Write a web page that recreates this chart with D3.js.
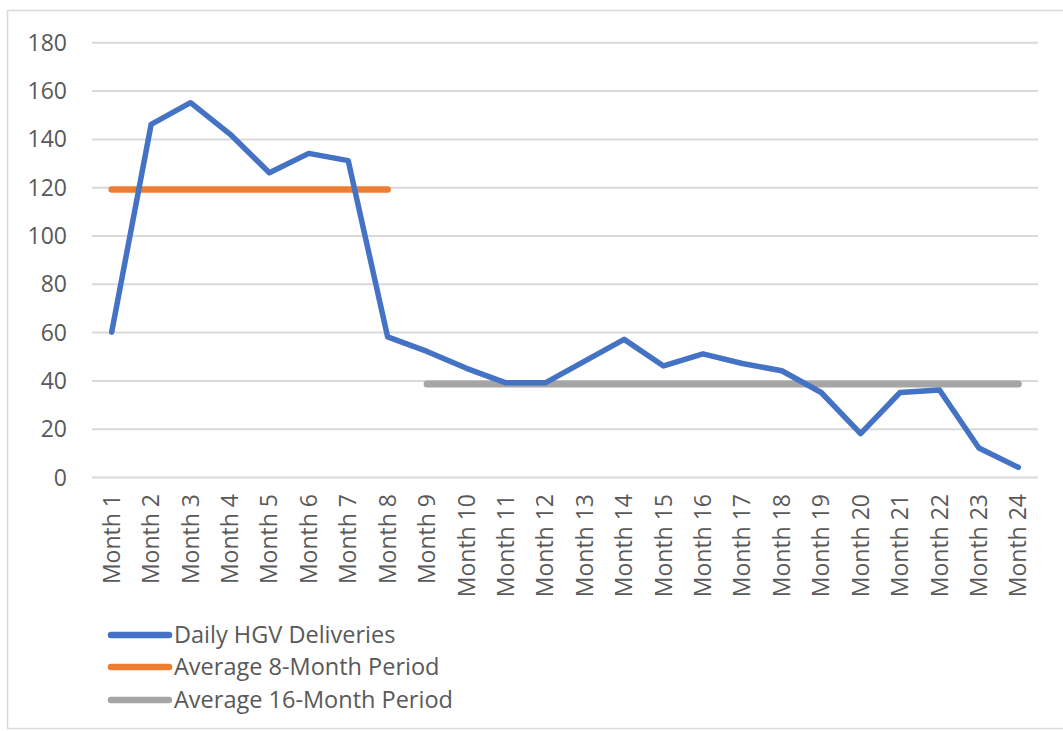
<!DOCTYPE html>
<html>
<head>
<meta charset="utf-8">
<script src="https://cdn.jsdelivr.net/npm/d3@7"></script>
<style>
  html, body { margin: 0; padding: 0; background: #fff; }
  svg { display: block; }
  text { font-family: "Open Sans", "Noto Sans", sans-serif; fill: #595959; }
</style>
</head>
<body>
<svg id="chart" width="1063" height="731"></svg>
<script>
const months = ["Month 1","Month 2","Month 3","Month 4","Month 5","Month 6","Month 7","Month 8",
  "Month 9","Month 10","Month 11","Month 12","Month 13","Month 14","Month 15","Month 16",
  "Month 17","Month 18","Month 19","Month 20","Month 21","Month 22","Month 23","Month 24"];
const deliveries = [60,146,155,142,126,134,131,58,52,45,39,39,48,57,46,51,47,44,35,18,35,36,12,4];
const avg8Months = ["Month 1","Month 8"];
const avg8Values = [119,119];
const avg16Months = ["Month 9","Month 24"];
const avg16Values = [38.5,38.5];
const yTicks = [0,20,40,60,80,100,120,140,160,180];
const seriesNames = ["Daily HGV Deliveries","Average 8-Month Period","Average 16-Month Period"];
const seriesColors = ["#4472C4","#ED7D31","#A5A5A5"];

const svg = d3.select("#chart");
const plot = {left: 92, right: 1038, top: 42.3, bottom: 477};

// border
svg.append("rect").attr("x",7.5).attr("y",10.5).attr("width",1070).attr("height",718)
  .attr("fill","none").attr("stroke","#d9d9d9").attr("stroke-width",1.5);

const x = d3.scaleBand().domain(months).range([plot.left, plot.right]);
const y = d3.scaleLinear().domain([0,180]).range([plot.bottom, plot.top]);
const cx = m => x(m) + x.bandwidth()/2;

// gridlines + y labels
const yAxis = d3.axisLeft(y).tickValues(yTicks).tickSize(-(plot.right-plot.left)).tickPadding(25);
const gy = svg.append("g").attr("transform",`translate(${plot.left},0)`).call(yAxis);
gy.select(".domain").remove();
gy.selectAll(".tick line").attr("stroke","#d9d9d9").attr("stroke-width",2);
gy.selectAll(".tick text").attr("font-size",23).attr("fill","#595959")
  .style("font-family",'"Open Sans", sans-serif').attr("dy","0.35em");

// x axis labels
const xAxis = d3.axisBottom(x).tickSize(0).tickPadding(0);
const gx = svg.append("g").attr("transform",`translate(0,${plot.bottom})`).call(xAxis);
gx.select(".domain").remove();
gx.selectAll(".tick text")
  .attr("font-size",23).attr("fill","#595959")
  .style("font-family",'"Open Sans", sans-serif')
  .attr("text-anchor","end")
  .attr("transform","translate(0,17) rotate(-90)")
  .attr("x",0).attr("y",0).attr("dy","0.35em");

// lines
const line = d3.line().x(d => cx(d[0])).y(d => y(d[1]));
svg.append("path").datum(avg16Months.map((m,i)=>[m,avg16Values[i]]))
  .attr("d",line).attr("fill","none").attr("stroke",seriesColors[2])
  .attr("stroke-width",7).attr("stroke-linecap","round");
svg.append("path").datum(avg8Months.map((m,i)=>[m,avg8Values[i]]))
  .attr("d",line).attr("fill","none").attr("stroke",seriesColors[1])
  .attr("stroke-width",6.5).attr("stroke-linecap","round");
svg.append("path").datum(months.map((m,i)=>[m,deliveries[i]]))
  .attr("d",line).attr("fill","none").attr("stroke",seriesColors[0])
  .attr("stroke-width",5.5).attr("stroke-linecap","round").attr("stroke-linejoin","round");

// legend
const legY = [635,667,700];
const leg = svg.append("g");
seriesNames.forEach((n,i)=>{
  leg.append("line").attr("x1",111).attr("x2",169).attr("y1",legY[i]).attr("y2",legY[i])
    .attr("stroke",seriesColors[i]).attr("stroke-width",6.5).attr("stroke-linecap","round");
  leg.append("text").attr("x",174).attr("y",legY[i]).attr("dy","0.35em")
    .attr("font-size",23.5).text(n);
});
</script>
</body>
</html>
